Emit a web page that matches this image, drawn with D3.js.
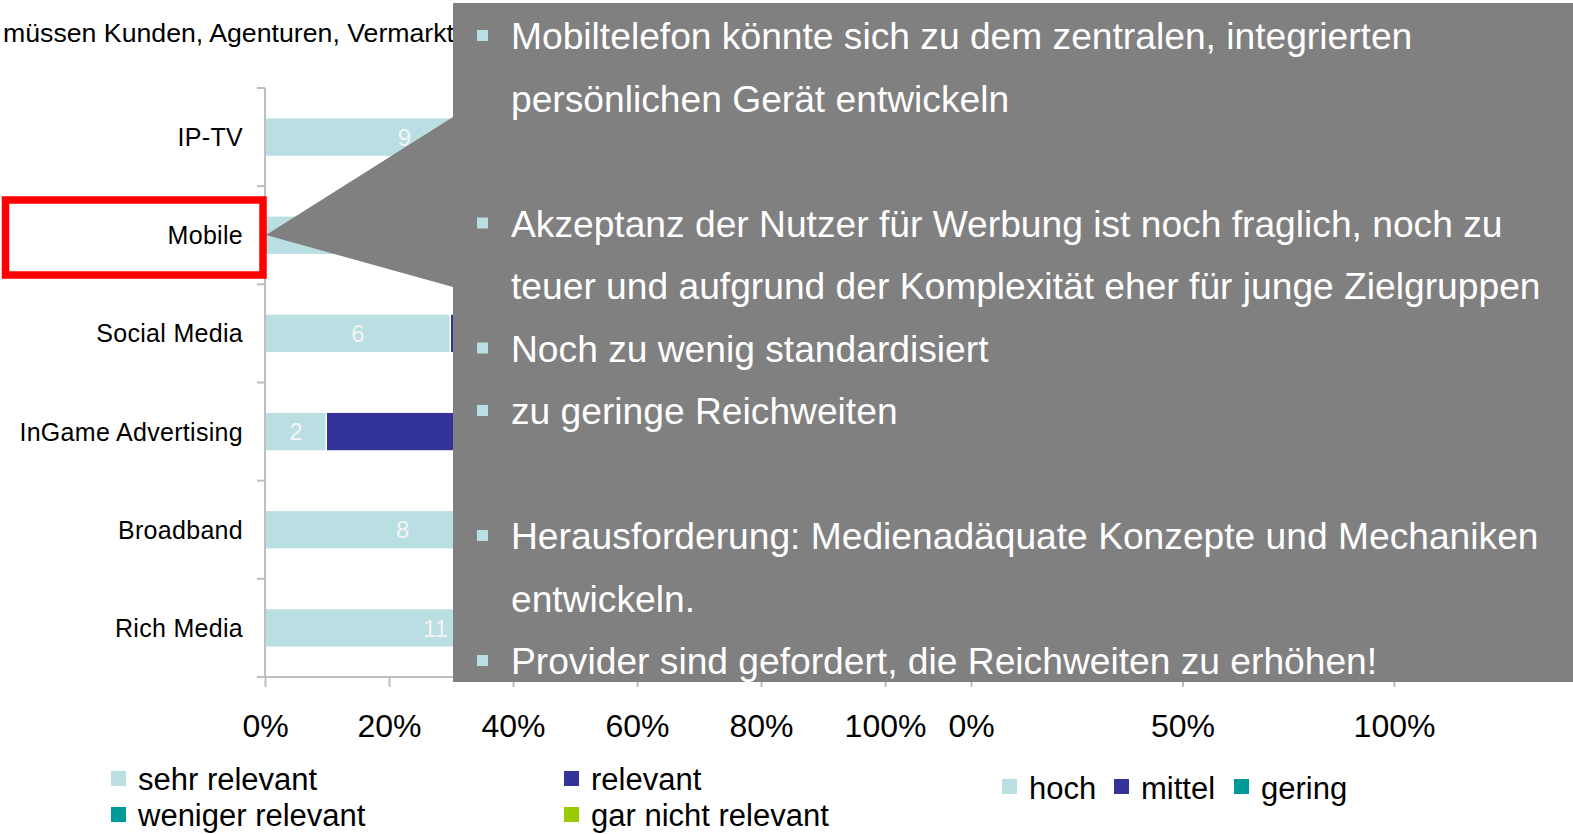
<!DOCTYPE html>
<html><head><meta charset="utf-8">
<script src="https://cdn.jsdelivr.net/npm/d3@7"></script>
<style>
html,body{margin:0;padding:0;background:#fff;}
text{font-family:"Liberation Sans",Arial,sans-serif;}
</style></head>
<body><svg id="c" width="1573" height="834"></svg>
<script>
// ---- data ----
const titleText = "müssen Kunden, Agenturen, Vermarkt";
const categories = ["IP-TV","Mobile","Social Media","InGame Advertising","Broadband","Rich Media"];
const seriesNames = ["sehr relevant","relevant","weniger relevant","gar nicht relevant"];
const sehrRelevant     = [9, 7, 6, 2, 8, 11];
const relevant         = [8, 9, 10, 10, 7, 8];
const wenigerRelevant  = [3, 3, 3, 6, 3, 1];
const garNichtRelevant = [0, 1, 1, 2, 0, 0];
const series2Names = ["hoch","mittel","gering"];
const hoch   = [8, 6, 7, 3, 9, 12];
const mittel = [9, 10, 9, 10, 8, 7];
const gering = [3, 4, 4, 7, 3, 1];
const ticks1 = [0, 0.2, 0.4, 0.6, 0.8, 1.0];
const ticks2 = [0, 0.5, 1.0];
const bullets = [
  {b:true,  t:"Mobiltelefon könnte sich zu dem zentralen, integrierten"},
  {b:false, t:"persönlichen Gerät entwickeln"},
  {b:false, t:""},
  {b:true,  t:"Akzeptanz der Nutzer für Werbung ist noch fraglich, noch zu"},
  {b:false, t:"teuer und aufgrund der Komplexität eher für junge Zielgruppen"},
  {b:true,  t:"Noch zu wenig standardisiert"},
  {b:true,  t:"zu geringe Reichweiten"},
  {b:false, t:""},
  {b:true,  t:"Herausforderung: Medienadäquate Konzepte und Mechaniken"},
  {b:false, t:"entwickeln."},
  {b:true,  t:"Provider sind gefordert, die Reichweiten zu erhöhen!"}
];
const colors1 = ["#b9dfe2","#333399","#009999","#99cc00"];
const colors2 = ["#b9dfe2","#333399","#009999"];

// ---- build ----
const svg = d3.select("#c");
svg.append("rect").attr("width",1573).attr("height",834).attr("fill","#fff");

const rows1 = categories.map((c,i)=>({cat:c, "sehr relevant":sehrRelevant[i], "relevant":relevant[i], "weniger relevant":wenigerRelevant[i], "gar nicht relevant":garNichtRelevant[i]}));
const rows2 = categories.map((c,i)=>({cat:c, hoch:hoch[i], mittel:mittel[i], gering:gering[i]}));

const y = d3.scaleBand().domain(categories).range([88,677]).paddingInner(0.62).paddingOuter(0.31);
const x1 = d3.scaleLinear().domain([0,1]).range([265,885]);
const x2 = d3.scaleLinear().domain([0,1]).range([971,1394]);

const stack1 = d3.stack().keys(seriesNames).offset(d3.stackOffsetExpand)(rows1);
const stack2 = d3.stack().keys(series2Names).offset(d3.stackOffsetExpand)(rows2);

// title (continues behind the callout box)
svg.append("text").attr("x",3).attr("y",42).attr("font-size",26.7).attr("fill","#000").text(titleText);

function drawChart(stack, x, colors){
  const g = svg.append("g");
  stack.forEach((s,k)=>{
    g.selectAll(null).data(s).enter().append("rect")
      .attr("x",d=>x(d[0])).attr("y",d=>y(d.data.cat))
      .attr("width",d=>Math.max(0,x(d[1])-x(d[0])-(k<stack.length-1?1.5:0)))
      .attr("height",y.bandwidth()).attr("fill",colors[k]);
    g.selectAll(null).data(s.filter(d=>d.data[s.key]>0)).enter().append("text")
      .attr("x",d=>(x(d[0])+x(d[1]))/2).attr("y",d=>y(d.data.cat)+y.bandwidth()/2)
      .attr("dy","0.36em").attr("text-anchor","middle").attr("font-size",24)
      .attr("fill","#f4f4f4").text(d=>d.data[s.key]);
  });
  return g;
}
drawChart(stack1, x1, colors1);
drawChart(stack2, x2, colors2);

// axes
const axisCol = "#bfbfbf";
function drawAxes(x, ticks, fmt){
  const g = svg.append("g");
  const bounds = categories.map(c=>y(c)-y.step()*y.paddingInner()/2).concat([677]);
  g.append("line").attr("x1",x(0)).attr("x2",x(0)).attr("y1",88).attr("y2",677).attr("stroke",axisCol).attr("stroke-width",2);
  g.selectAll(null).data(bounds).enter().append("line")
    .attr("x1",x(0)-8).attr("x2",x(0)).attr("y1",d=>d).attr("y2",d=>d).attr("stroke",axisCol).attr("stroke-width",2);
  g.append("line").attr("x1",x(0)-8).attr("x2",x(1)).attr("y1",677).attr("y2",677).attr("stroke",axisCol).attr("stroke-width",2);
  const ax = d3.axisBottom(x).tickValues(ticks).tickSize(10).tickPadding(27).tickFormat(fmt);
  const ag = g.append("g").attr("transform","translate(0,677)").call(ax);
  ag.select(".domain").remove();
  ag.selectAll(".tick line").attr("stroke",axisCol).attr("stroke-width",2);
  ag.selectAll(".tick text").attr("font-size",32).attr("fill","#000")
    .attr("font-family","'Liberation Sans',Arial,sans-serif").attr("dy","0.71em");
  return g;
}
drawAxes(x1, ticks1, d3.format(".0%"));
drawAxes(x2, ticks2, d3.format(".0%"));

// category labels
svg.append("g").selectAll("text").data(categories).enter().append("text")
  .attr("x",243).attr("y",d=>y(d)+y.bandwidth()/2).attr("dy","0.36em")
  .attr("text-anchor","end").attr("font-size",25).attr("letter-spacing",0.3).attr("fill","#000").text(d=>d);

// legends
const leg1 = [[111,779],[564,779],[111,815],[564,815]];
seriesNames.forEach((n,i)=>{
  svg.append("rect").attr("x",leg1[i][0]).attr("y",leg1[i][1]-8).attr("width",15).attr("height",15).attr("fill",colors1[i]);
  svg.append("text").attr("x",leg1[i][0]+27).attr("y",leg1[i][1]).attr("dy","0.36em").attr("font-size",31).attr("fill","#000").text(n);
});
const leg2x = [1002,1114,1234];
series2Names.forEach((n,i)=>{
  svg.append("rect").attr("x",leg2x[i]).attr("y",779).attr("width",15).attr("height",15).attr("fill",colors2[i]);
  svg.append("text").attr("x",leg2x[i]+27).attr("y",788).attr("dy","0.36em").attr("font-size",31).attr("fill","#000").text(n);
});

// callout box
svg.append("path")
  .attr("d","M453,3 L1573,3 L1573,682 L453,682 L453,287 L266,235 L453,117 Z")
  .attr("fill","#808080");
const tg = svg.append("g");
bullets.forEach((l,i)=>{
  const by = 49 + i*62.5;
  if(l.b) tg.append("rect").attr("x",477).attr("y",by-19).attr("width",11).attr("height",11).attr("fill","#b9dfe2");
  if(l.t) tg.append("text").attr("x",511).attr("y",by).attr("font-size",37.2).attr("fill","#ffffff").text(l.t);
});

// red highlight
svg.append("rect").attr("x",5.5).attr("y",200).attr("width",257.5).attr("height",75)
  .attr("fill","none").attr("stroke","#ff0000").attr("stroke-width",7.5);
</script></body></html>
